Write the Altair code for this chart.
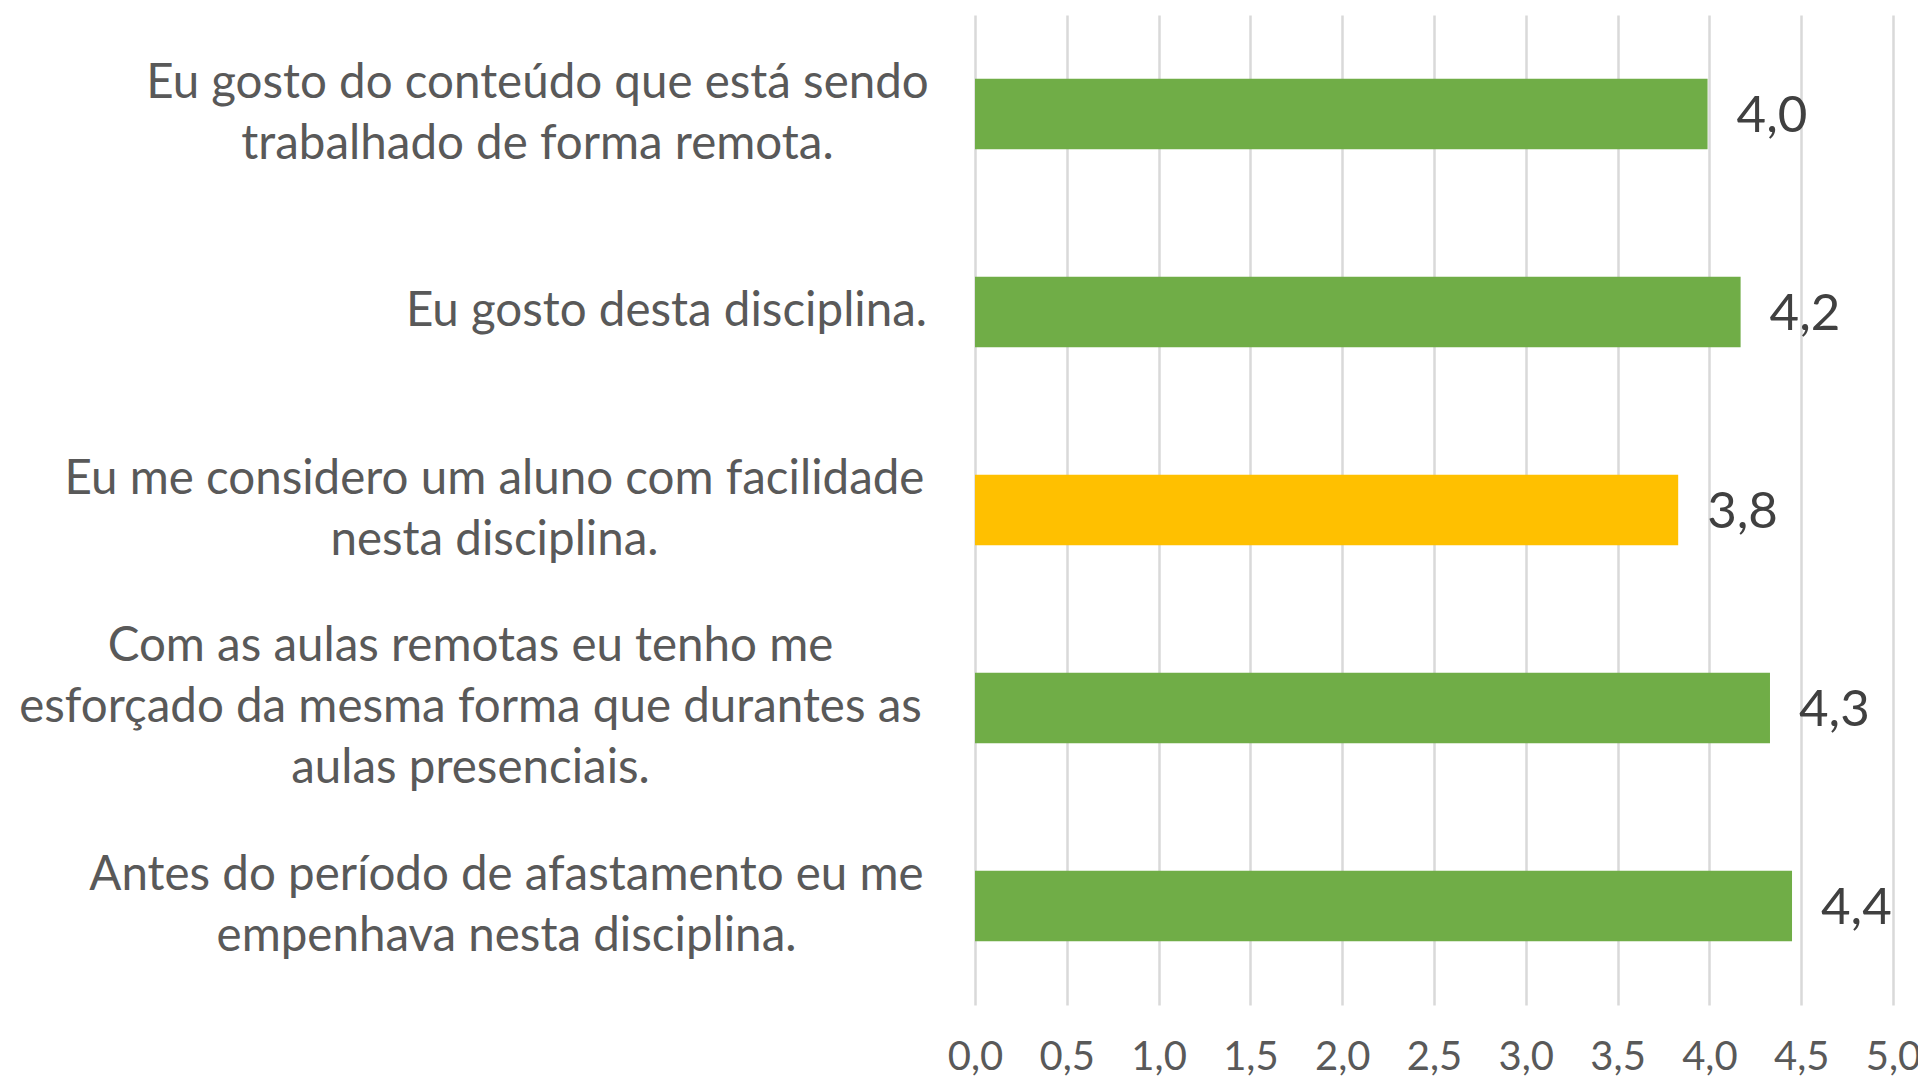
import altair as alt
import pandas as pd

# Categories (top to bottom), "|" marks a line break in the axis label
categorias = [
    "Eu gosto do conteúdo que está sendo|trabalhado de forma remota.",
    "Eu gosto desta disciplina.",
    "Eu me considero um aluno com facilidade|nesta disciplina.",
    "Com as aulas remotas eu tenho me|esforçado da mesma forma que durantes as|aulas presenciais.",
    "Antes do período de afastamento eu me|empenhava nesta disciplina.",
]
medias = [3.99, 4.17, 3.83, 4.33, 4.45]
rotulos = ["4,0", "4,2", "3,8", "4,3", "4,4"]
destaque = ["não", "não", "sim", "não", "não"]
ticks_x = [0, 0.5, 1, 1.5, 2, 2.5, 3, 3.5, 4, 4.5, 5]

df = pd.DataFrame({
    "categoria": categorias,
    "media": medias,
    "rotulo": rotulos,
    "destaque": destaque,
})

LINE_H = 61
# distance (px) from plot edge to the centre of each label block
label_pad = [438, 309, 481, 505, 469]

pad_cond = {
    "condition": [
        {"test": f"datum.value == '{c}'", "value": p}
        for c, p in zip(categorias, label_pad)
    ],
    "value": 450,
}
off_cond = {
    "condition": [
        {"test": f"datum.value == '{c}'", "value": -(c.count("|")) * LINE_H / 2}
        for c in categorias
    ],
    "value": 0,
}

FONT = "Lato"

y_enc = alt.Y(
    "categoria:N",
    sort=categorias,
    scale=alt.Scale(paddingInner=0.645, paddingOuter=0.3225),
    title=None,
    axis=alt.Axis(
        labelExpr="split(datum.value, '|')",
        labelAlign="center",
        labelBaseline="middle",
        labelPadding=pad_cond,
        labelOffset=off_cond,
        labelFont=FONT,
        labelFontSize=47.5,
        labelLineHeight=LINE_H,
        labelColor="#595959",
        labelLimit=2000,
        ticks=False,
        tickSize=0,
        domain=False,
        grid=False,
    ),
)

x_enc = alt.X(
    "media:Q",
    scale=alt.Scale(domain=[0, 5], nice=False, zero=True),
    title=None,
    axis=alt.Axis(
        values=ticks_x,
        labelExpr="replace(format(datum.value, '.1f'), '.', ',')",
        labelFont=FONT,
        labelFontSize=40,
        labelColor="#595959",
        labelBaseline="alphabetic",
        labelPadding=64,
        labelFlush=False,
        labelOverlap=False,
        ticks=False,
        tickSize=0,
        domain=False,
        grid=True,
        gridColor="#d9d9d9",
        gridWidth=2.5,
    ),
)

base = alt.Chart(df)

bars = base.mark_bar(cornerRadius=0).encode(
    y=y_enc,
    x=x_enc,
    color=alt.Color(
        "destaque:N",
        scale=alt.Scale(domain=["não", "sim"], range=["#70AD47", "#FFC000"]),
        legend=None,
    ),
)

text = base.mark_text(
    align="left",
    baseline="alphabetic",
    dx=29,
    dy=18,
    font=FONT,
    fontSize=51,
    color="#404040",
).encode(
    y=alt.Y("categoria:N", sort=categorias),
    x=alt.X("media:Q"),
    text="rotulo:N",
)

chart = (
    alt.layer(bars, text)
    .properties(
        width=918,
        height=990,
        autosize=alt.AutoSizeParams(type="none"),
        padding={"left": 967, "top": 7, "right": 25, "bottom": 73},
        background="white",
    )
    .configure_view(stroke=None)
)

chart.save("out.html", embed_options={"renderer": "svg", "actions": False})
